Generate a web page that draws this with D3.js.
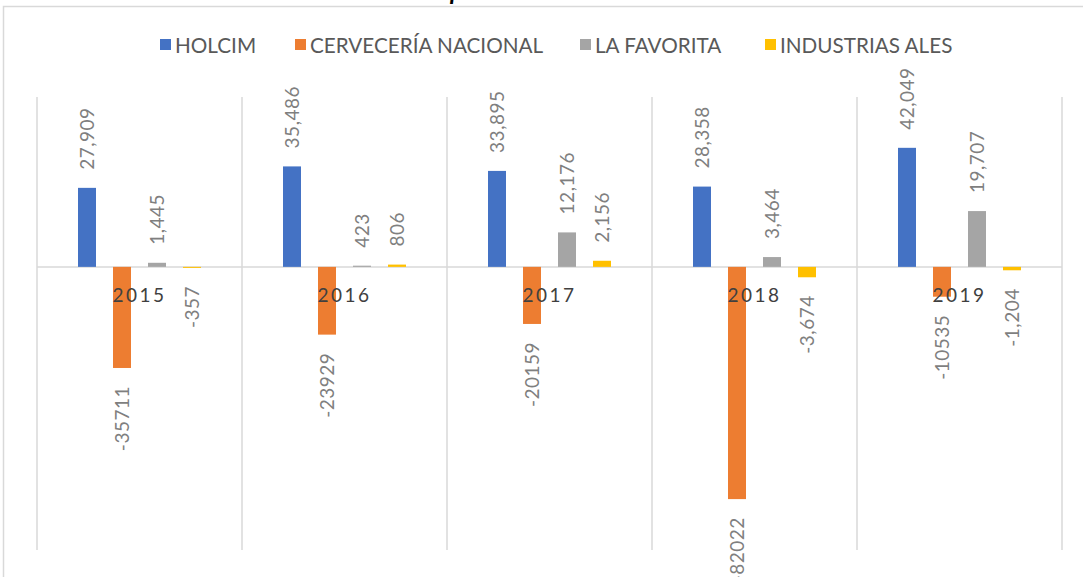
<!DOCTYPE html>
<html>
<head>
<meta charset="utf-8">
<script src="https://cdn.jsdelivr.net/npm/d3@7"></script>
<style>
  body { margin: 0; background: #fff; }
  svg { display: block; font-family: Lato, "Open Sans", sans-serif; }
</style>
</head>
<body>
<svg id="chart" width="1083" height="577"></svg>
<script>
// Chart data
const years = ["2015", "2016", "2017", "2018", "2019"];
const seriesNames = ["HOLCIM", "CERVECERÍA NACIONAL", "LA FAVORITA", "INDUSTRIAS ALES"];
const holcim = [27909, 35486, 33895, 28358, 42049];
const cerveceria = [-35711, -23929, -20159, -82022, -10535];
const favorita = [1445, 423, 12176, 3464, 19707];
const ales = [-357, 806, 2156, -3674, -1204];
const seriesValues = [holcim, cerveceria, favorita, ales];
// orange series labels were shown without thousands separator
const labelFormats = [",", "d", ",", ","];
const colors = ["#4472c4", "#ed7d31", "#a5a5a5", "#ffc000"];
const titleText = "período 2015-2019";

const svg = d3.select("#chart");
const locale = d3.formatLocale({ decimal: ".", thousands: ",", grouping: [3], currency: ["$", ""], minus: "-" });

// outer chart frame
svg.append("rect")
    .attr("x", 3.5).attr("y", 6.5)
    .attr("width", 1200).attr("height", 700)
    .attr("fill", "#fff")
    .attr("stroke", "#d9d9d9")
    .attr("stroke-width", 1.5);

// title, mostly cut off above the frame
svg.append("text")
    .attr("x", 450).attr("y", -0.5)
    .attr("textLength", 240)
    .attr("lengthAdjust", "spacing")
    .style("font-size", "24px")
    .style("font-weight", "bold")
    .style("font-style", "italic")
    .attr("fill", "#000")
    .text(titleText);

// plot area
const plotLeft = 37, plotRight = 1062, plotTop = 97, plotBottom = 550;

const x0 = d3.scaleBand()
    .domain(years)
    .range([plotLeft, plotRight])
    .padding(0);

const x1 = d3.scaleBand()
    .domain(seriesNames)
    .range([0, 123])
    .paddingInner(0.486);

const y = d3.scaleLinear()
    .domain([-100000, 60000])
    .range([plotBottom, plotTop]);

// vertical category separators
const grid = svg.append("g");
grid.selectAll("line")
    .data(years.concat(["end"]))
    .enter().append("line")
    .attr("x1", (d, i) => plotLeft + i * x0.step())
    .attr("x2", (d, i) => plotLeft + i * x0.step())
    .attr("y1", plotTop)
    .attr("y2", plotBottom)
    .attr("stroke", "#d9d9d9")
    .attr("stroke-width", 1.5);

// zero line
svg.append("line")
    .attr("x1", plotLeft).attr("x2", plotRight)
    .attr("y1", y(0)).attr("y2", y(0))
    .attr("stroke", "#d9d9d9")
    .attr("stroke-width", 1.5);

// build flat list of bars
const bars = [];
years.forEach((yr, i) => {
    seriesNames.forEach((s, j) => {
        bars.push({ year: yr, series: s, idx: j, value: seriesValues[j][i] });
    });
});

const groupOffset = (x0.bandwidth() - 123) / 2;
const barX = d => x0(d.year) + groupOffset + x1(d.series);

svg.append("g").selectAll("rect")
    .data(bars)
    .enter().append("rect")
    .attr("x", barX)
    .attr("y", d => y(Math.max(0, d.value)))
    .attr("width", x1.bandwidth())
    .attr("height", d => Math.abs(y(d.value) - y(0)))
    .attr("fill", d => colors[d.idx]);

// year labels, drawn just below zero line
svg.append("g").selectAll("text")
    .data(years)
    .enter().append("text")
    .attr("x", d => x0(d) + x0.bandwidth() / 2)
    .attr("y", y(0) + 35)
    .attr("text-anchor", "middle")
    .style("font-size", "19px")
    .style("letter-spacing", "2.5px")
    .attr("fill", "#404040")
    .text(d => d);

// rotated data labels
const gap = 18;
svg.append("g").selectAll("text")
    .data(bars)
    .enter().append("text")
    .attr("transform", d => {
        const cx = barX(d) + x1.bandwidth() / 2 + 7;
        const cy = d.value >= 0 ? y(d.value) - gap : y(d.value) + gap;
        return `translate(${cx},${cy}) rotate(-90)`;
    })
    .attr("text-anchor", d => d.value >= 0 ? "start" : "end")
    .style("font-size", "19px")
    .style("letter-spacing", "0.5px")
    .attr("fill", "#7f7f7f")
    .text(d => locale.format(labelFormats[d.idx])(d.value));

// legend
const legendX = [160, 295, 580, 765];
const legend = svg.append("g").selectAll("g")
    .data(seriesNames)
    .enter().append("g")
    .attr("transform", (d, i) => `translate(${legendX[i]},45)`);

legend.append("rect")
    .attr("x", 0).attr("y", -6)
    .attr("width", 11).attr("height", 11)
    .attr("fill", (d, i) => colors[i]);

legend.append("text")
    .attr("x", 15).attr("y", 7.5)
    .style("font-size", "20.7px")
    .attr("fill", "#595959")
    .text(d => d);
</script>
</body>
</html>
